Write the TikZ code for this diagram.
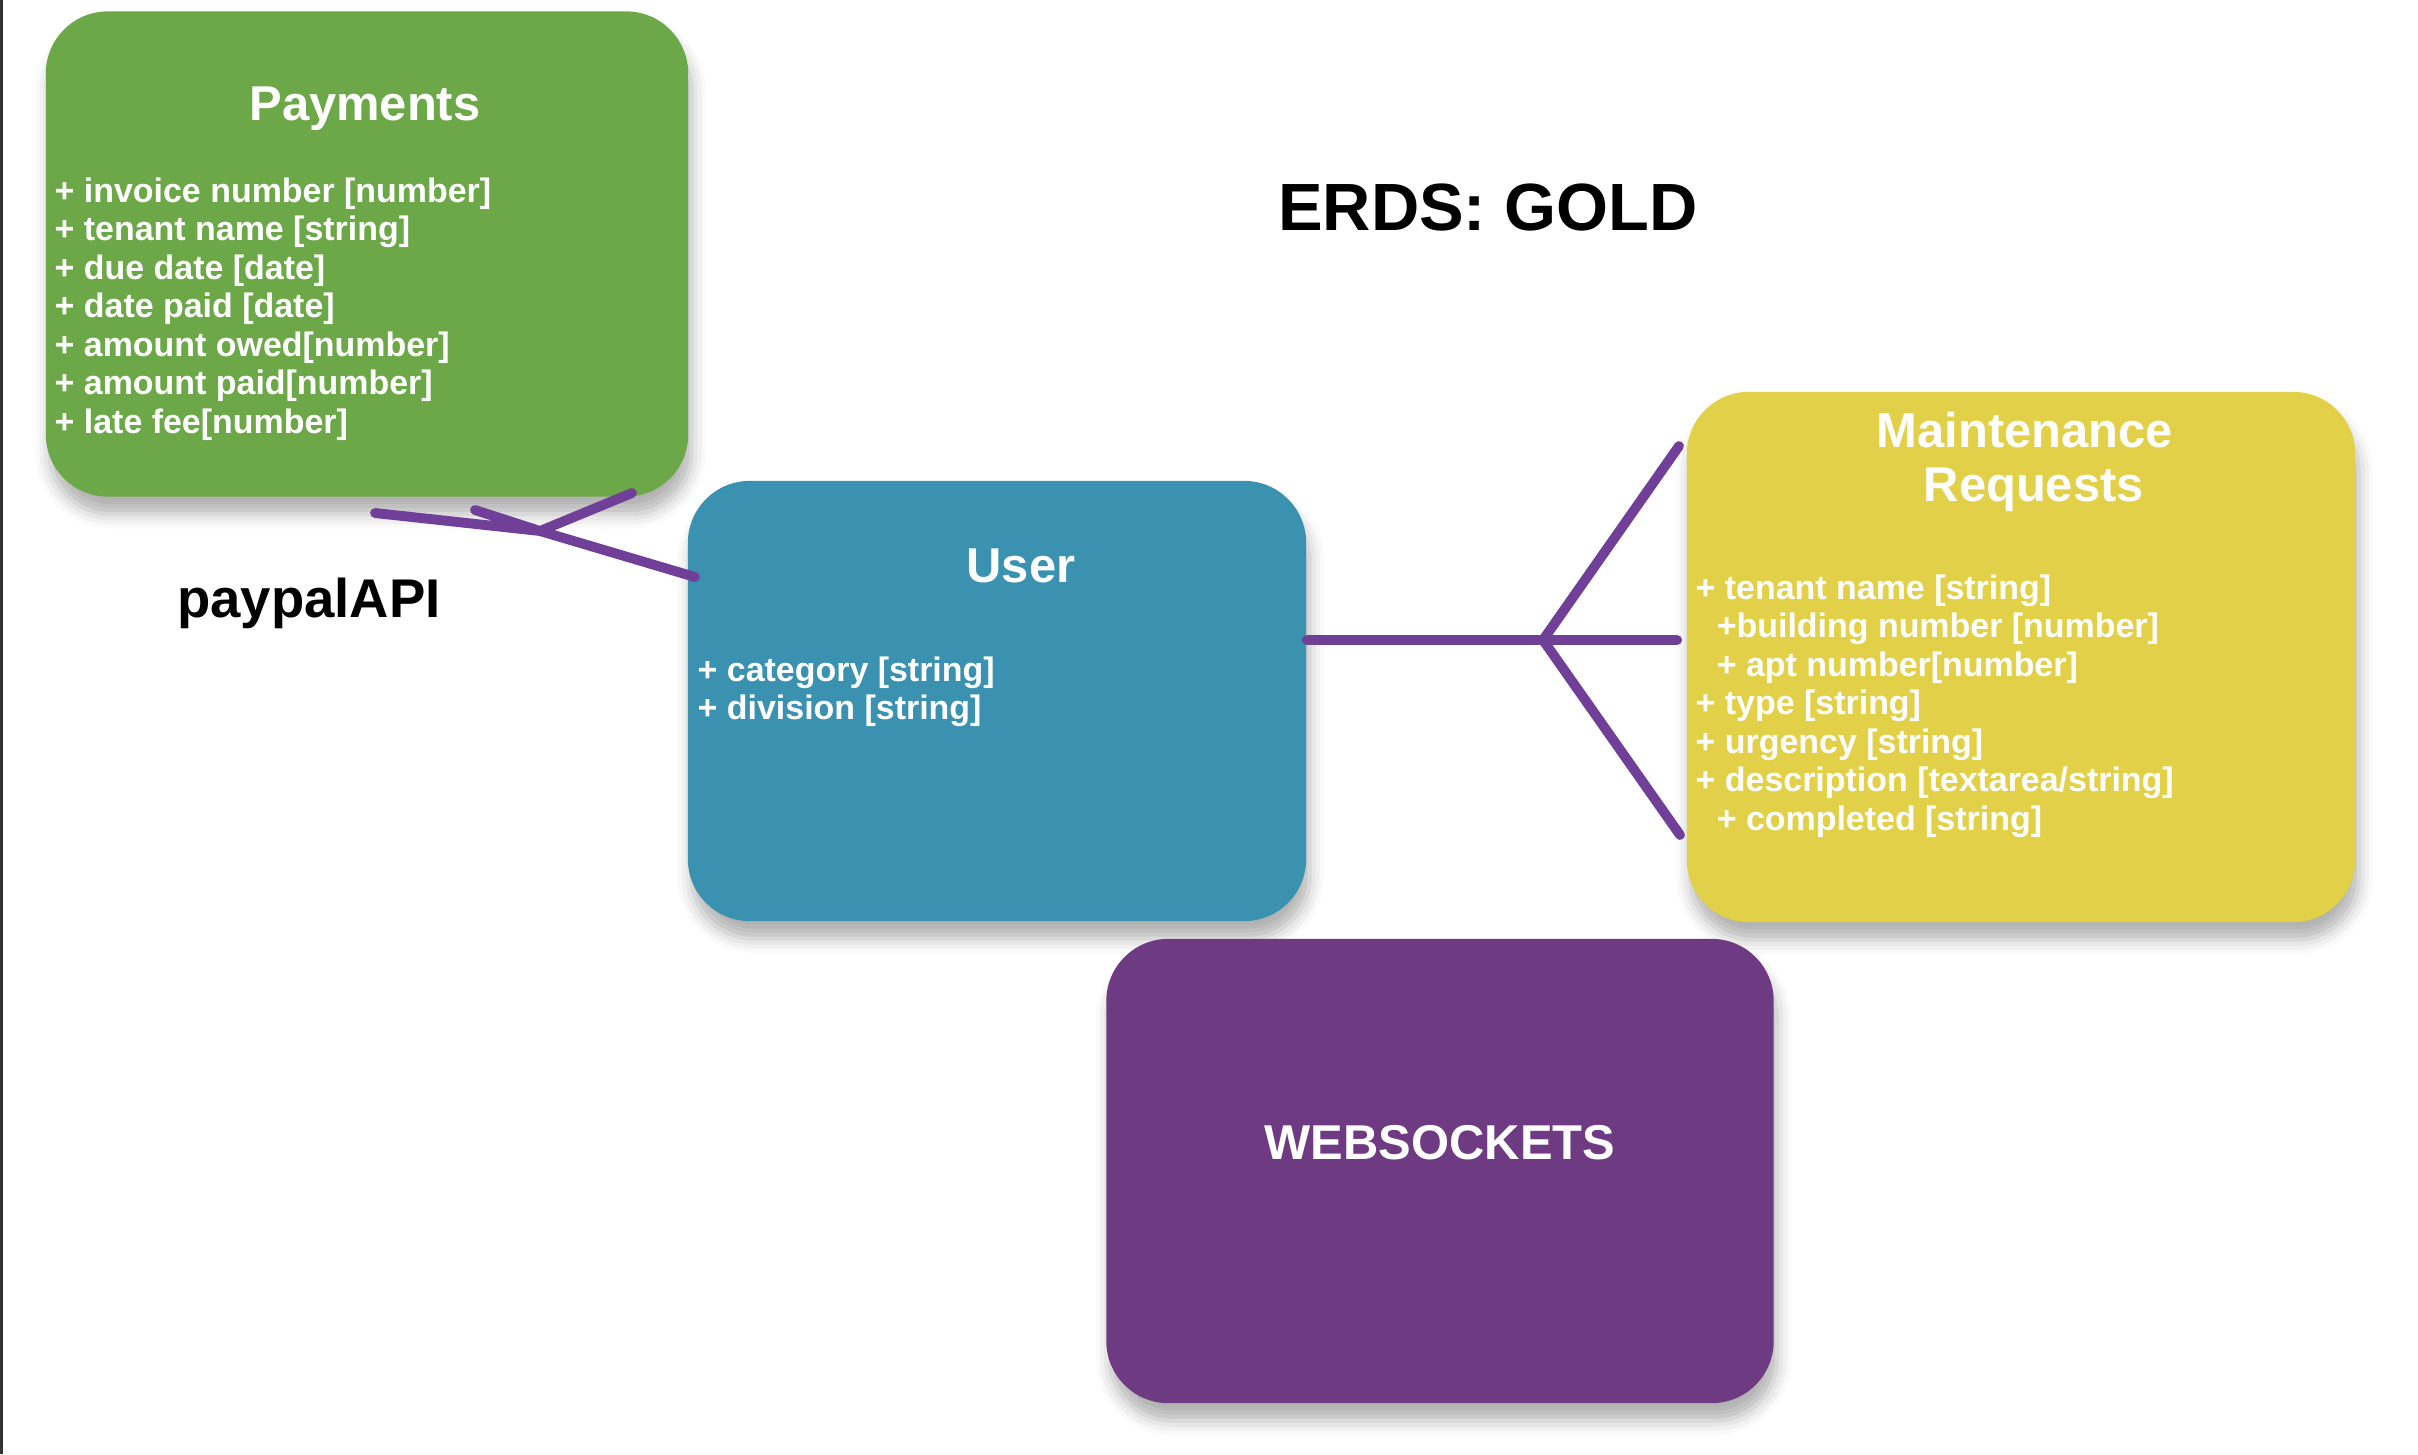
\documentclass[tikz,border=0pt]{standalone}
\usepackage{fontspec}
\setmainfont{Liberation Sans}
\usepackage{tikz}
\usetikzlibrary{calc, shadows.blur}
\definecolor{payGreen}{RGB}{108,168,72}
\definecolor{userBlue}{RGB}{58,145,176}
\definecolor{maintYellow}{RGB}{226,208,72}
\definecolor{wsPurple}{RGB}{110,58,130}
\definecolor{linkPurple}{RGB}{112,64,152}

\begin{document}
\begin{tikzpicture}[x=0.01cm, y=-0.01cm]
    \tikzset{
      entity/.style={
        rectangle,
        rounded corners=0.62cm,
        inner sep=0pt,
        blur shadow={shadow xshift=1pt, shadow yshift=-5pt,
                     shadow opacity=30, shadow blur radius=4pt},
      },
      ttl/.style={
        text=white,
        font=\fontsize{13.9}{15.4}\selectfont\bfseries,
        align=center,
        inner sep=0pt,
      },
      attrs/.style={
        text=white,
        font=\fontsize{9.65}{10.95}\selectfont\bfseries,
        align=left,
        anchor=north west,
        inner sep=0pt,
      },
      crow/.style={
        draw=linkPurple,
        line width=2.8pt,
        line cap=round,
      }
    }
    \useasboundingbox (0,0) rectangle (2418,1454);
    \fill[black!80] (0,0) rectangle (3,1454);

    % entities
    \node[entity, fill=payGreen,    minimum width=6.42cm, minimum height=4.85cm] (pay)   at (367,254)  {};
    \node[entity, fill=userBlue,    minimum width=6.18cm, minimum height=4.40cm] (user)  at (997,701)  {};
    \node[entity, fill=maintYellow, minimum width=6.68cm, minimum height=5.30cm] (maint) at (2021,657) {};
    \node[entity, fill=wsPurple,    minimum width=6.67cm, minimum height=4.64cm] (ws)    at (1440,1171) {};

    % Payments
    \node[ttl] (payTtl) at (365,109) {Payments};
    \node[attrs] (payAttr) at (54,177) {+ invoice number [number]\\
        + tenant name [string]\\
        + due date [date]\\
        + date paid [date]\\
        + amount owed[number]\\
        + amount paid[number]\\
        + late fee[number]};

    % User
    \node[ttl] (userTtl) at (1021,566) {User};
    \node[attrs] (userAttr) at (697,656) {+ category [string]\\
        + division [string]};

    % Maintenance Requests
    \node[ttl] (maintTtl) at (2025,462) {Maintenance\\ \hspace*{5pt}Requests};
    \node[attrs] (maintAttr) at (1695,574) {+ tenant name [string]\\
        \hspace*{6pt}+building number [number]\\
        \hspace*{6pt}+ apt number[number]\\
        + type [string]\\
        + urgency [string]\\
        + description [textarea/string]\\
        \hspace*{6pt}+ completed [string]};

    % Websockets
    \node[ttl] (wsTtl) at (1440,1143) {WEBSOCKETS};

    % free labels
    \node[font=\fontsize{19}{22}\selectfont\bfseries] (erds) at (1488,207) {ERDS: GOLD};
    \node[font=\fontsize{15.5}{18}\selectfont\bfseries, anchor=base] (paypal) at (309,617) {paypalAPI};

    % User -- Maintenance (many)
    \coordinate (fork)     at (1543,640);
    \coordinate (footUp)   at (1679,446);
    \coordinate (footDown) at (1680,835);
    \draw[crow] (user.east |- fork) -- (fork) -- ($(maint.west |- fork)+(-9,0)$)
        (fork) -- (footUp)
        (fork) -- (footDown);

    % User -- Payments
    \coordinate (userEnd) at (695,577);
    \coordinate (payFork) at (540,531);
    \coordinate (prongA)  at (375,513);
    \coordinate (prongB)  at (475,510);
    \coordinate (prongC)  at (632,493);
    \draw[crow] (userEnd) -- (payFork) -- (prongB)
        (payFork) -- (prongA)
        (payFork) -- (prongC);
\end{tikzpicture}
\end{document}
